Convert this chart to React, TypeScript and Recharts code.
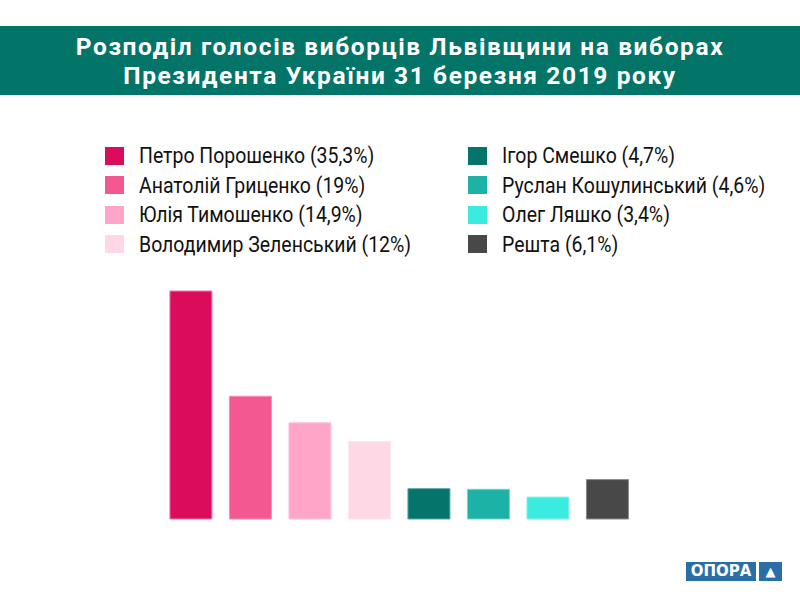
import React from "react";
import { BarChart, Bar, XAxis, YAxis, Cell, Legend } from "recharts";

const candidates = [
  "Петро Порошенко",
  "Анатолій Гриценко",
  "Юлія Тимошенко",
  "Володимир Зеленський",
  "Ігор Смешко",
  "Руслан Кошулинський",
  "Олег Ляшко",
  "Решта",
];
const shares = [35.3, 19, 14.9, 12, 4.7, 4.6, 3.4, 6.1];
const colors = ["#dc0c5c", "#f45890", "#ffa5c8", "#ffd8e6", "#05746a", "#1cb3a6", "#3bebdf", "#484848"];
const borders = ["#f37aa6", "#f98cb4", "#ffc4dc", "#ffe6ef", "#5fa9a2", "#7ad3cb", "#8ff3ec", "#8a8a8a"];

const title1 = "Розподіл голосів виборців Львівщини на виборах";
const title2 = "Президента України 31 березня 2019 року";

const rows = candidates.map((name, i) => ({ name, value: shares[i] }));

const fmt = (v: number) => String(v).replace(".", ",");

const LegendBox = () => (
  <div
    style={{
      position: "absolute",
      left: 105,
      top: 141,
      display: "grid",
      gridTemplateRows: "repeat(4, 29.5px)",
      gridAutoFlow: "column",
      gridTemplateColumns: "363px 320px",
      fontFamily: "Roboto, sans-serif",
      fontSize: 22,
      color: "#111",
    }}
  >
    {candidates.map((c, i) => (
      <div key={c} style={{ display: "flex", alignItems: "center", height: 29.5 }}>
        <span style={{ width: 19, height: 18, background: colors[i], display: "inline-block", marginRight: 15, flexShrink: 0 }} />
        <span style={{ whiteSpace: "nowrap", display: "inline-block", transform: "scaleX(0.885)", transformOrigin: "left center" }}>
          {c} ({fmt(shares[i])}%)
        </span>
      </div>
    ))}
  </div>
);

export default function App() {
  return (
    <div style={{ position: "absolute", left: 0, top: 0, width: 800, height: 600, background: "#fff", overflow: "hidden" }}>
      <div
        style={{
          position: "absolute",
          left: 0,
          top: 26,
          width: 800,
          height: 69,
          background: "#037468",
          color: "#fff",
          fontFamily: "Roboto, sans-serif",
          fontWeight: 700,
          fontSize: 24.5,
          letterSpacing: 1.6,
          lineHeight: "29px",
          textAlign: "center",
          paddingTop: 6,
          boxSizing: "border-box",
        }}
      >
        <div>{title1}</div>
        <div>{title2}</div>
      </div>
      <div style={{ position: "absolute", left: 0, top: 0 }}>
        <BarChart
          width={800}
          height={600}
          data={rows}
          margin={{ top: 291, right: 163, bottom: 81, left: 161 }}
          barCategoryGap="15%"
        >
          <XAxis dataKey="name" hide />
          <YAxis hide domain={[0, 35.3]} />
          <Legend content={() => null} />
          <Bar dataKey="value" isAnimationActive={false}>
            {rows.map((r, i) => (
              <Cell key={r.name} fill={colors[i]} stroke={borders[i]} strokeWidth={1} />
            ))}
          </Bar>
        </BarChart>
      </div>
      <LegendBox />
      <div
        style={{
          position: "absolute",
          left: 686,
          top: 562,
          display: "flex",
          gap: 3,
          fontFamily: "'DejaVu Sans', sans-serif",
          fontWeight: 700,
          color: "#fff",
        }}
      >
        <div style={{ background: "#2a6ea8", height: 19, width: 70, fontSize: 15, lineHeight: "19px", textAlign: "center" }}>
          ОПОРА
        </div>
        <div style={{ background: "#2a6ea8", height: 19, width: 23, fontSize: 13, lineHeight: "19px", textAlign: "center" }}>
          ▲
        </div>
      </div>
    </div>
  );
}
